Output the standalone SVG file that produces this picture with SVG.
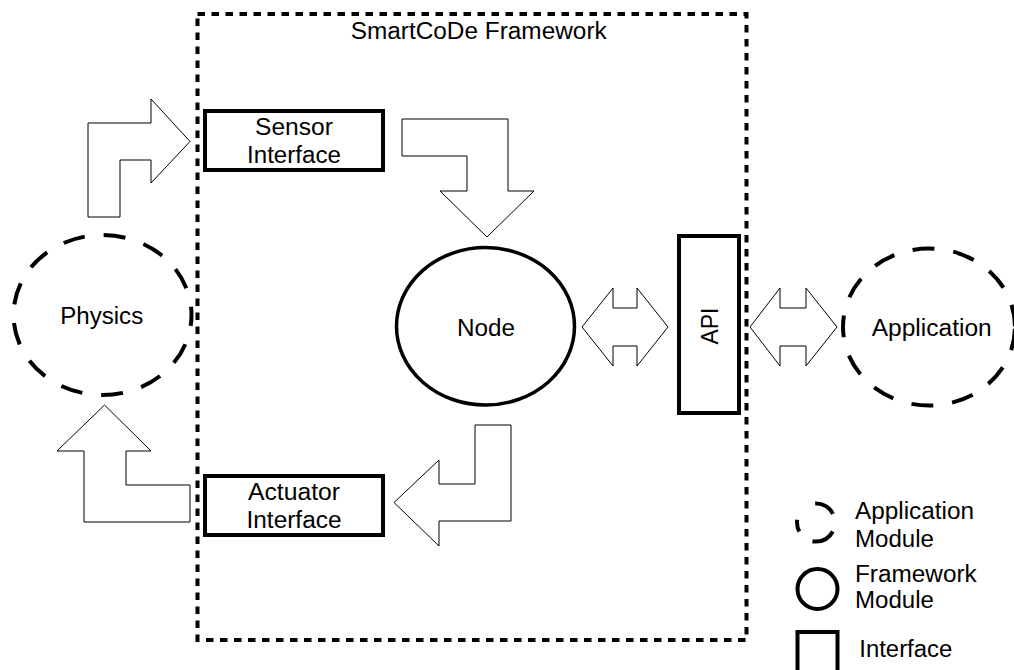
<svg xmlns="http://www.w3.org/2000/svg" width="1014" height="670" viewBox="0 0 1014 670">
  <style>
    .lbl { font-family: "Liberation Sans", Arial, sans-serif; font-size: 23px; fill: #000; }
    .mid { text-anchor: middle; }
    .frame { fill: none; stroke: #000; stroke-width: 4; stroke-dasharray: 7.5 6.5; }
    .module { fill: none; stroke: #000; stroke-width: 4; stroke-dasharray: 22 19; }
    .fw { fill: #fff; stroke: #000; stroke-width: 3.5; }
    .iface { fill: #fff; stroke: #000; stroke-width: 4; }
    .flow { fill: #fff; stroke: #000; stroke-width: 1; stroke-linejoin: miter; }
  </style>

  <rect width="1014" height="670" fill="#fff"/>

  <!-- framework boundary -->
  <g id="framework">
    <rect class="frame" x="197.5" y="14" width="549" height="626"/>
    <text class="lbl mid" x="478.7" y="39" textLength="256" lengthAdjust="spacingAndGlyphs">SmartCoDe Framework</text>
  </g>

  <!-- block arrows between modules -->
  <g id="connectors">
    <polygon class="flow" points="88,217 88,123 151,123 151,99 190,141.5 151,183 151,160 120,160 120,217"/>
    <polygon class="flow" points="402,119 508,119 508,191 534,191 487,237 440,191 467,191 467,156 402,156"/>
    <polygon class="flow" points="475,425 511,425 511,521 439,521 439,546 394,502.5 439,460 439,484 475,484"/>
    <polygon class="flow" points="104.5,405 151,451 126,451 126,485 190,485 190,522 84,522 84,451 57,451"/>
    <polygon class="flow" points="582,327 613,288 613,308 637,308 637,288 668,327 637,366 637,346 613,346 613,366"/>
    <polygon class="flow" points="750,327 780,288 780,308 806,308 806,288 837,327 806,366 806,346 780,346 780,366"/>
  </g>

  <g id="physics">
    <ellipse class="module" cx="102.5" cy="315" rx="89" ry="80" stroke-dashoffset="11"/>
    <text class="lbl mid" x="101.7" y="323.5" textLength="83" lengthAdjust="spacingAndGlyphs">Physics</text>
  </g>

  <g id="sensor-interface">
    <rect class="iface" x="205" y="111" width="178" height="59"/>
    <text class="lbl mid" x="294" y="135" textLength="78" lengthAdjust="spacingAndGlyphs">Sensor</text>
    <text class="lbl mid" x="294" y="162.5" textLength="94" lengthAdjust="spacingAndGlyphs">Interface</text>
  </g>

  <g id="actuator-interface">
    <rect class="iface" x="205" y="476" width="178" height="59"/>
    <text class="lbl mid" x="294" y="499.5" textLength="92" lengthAdjust="spacingAndGlyphs">Actuator</text>
    <text class="lbl mid" x="294" y="527.5" textLength="95" lengthAdjust="spacingAndGlyphs">Interface</text>
  </g>

  <g id="node">
    <ellipse class="fw" cx="485.5" cy="326.3" rx="89" ry="78.7"/>
    <text class="lbl mid" x="486" y="335.7" textLength="58" lengthAdjust="spacingAndGlyphs">Node</text>
  </g>

  <g id="api">
    <rect class="iface" x="679" y="236" width="60" height="177"/>
    <text class="lbl mid" transform="translate(718,326) rotate(-90)" x="0" y="0" font-size="25" textLength="37" lengthAdjust="spacingAndGlyphs">API</text>
  </g>

  <g id="application">
    <ellipse class="module" cx="929" cy="327" rx="86" ry="78.5" stroke-dashoffset="-1.7"/>
    <text class="lbl mid" x="931.7" y="335.7" textLength="120" lengthAdjust="spacingAndGlyphs">Application</text>
  </g>

  <!-- key -->
  <g id="legend">
    <circle cx="816" cy="522.5" r="19" fill="none" stroke="#000" stroke-width="4" stroke-dasharray="24 16.6 12.3 25.9 21.6 19.2" stroke-dashoffset="-9.3"/>
    <text class="lbl" x="855" y="519.3" textLength="119" lengthAdjust="spacingAndGlyphs">Application</text>
    <text class="lbl" x="855" y="547.3" textLength="79" lengthAdjust="spacingAndGlyphs">Module</text>
    <circle cx="817.5" cy="589" r="20" fill="none" stroke="#000" stroke-width="4"/>
    <text class="lbl" x="855" y="581.7" textLength="121.7" lengthAdjust="spacingAndGlyphs">Framework</text>
    <text class="lbl" x="855" y="608.3" textLength="79" lengthAdjust="spacingAndGlyphs">Module</text>
    <rect x="797.5" y="632" width="40" height="40" fill="none" stroke="#000" stroke-width="4"/>
    <text class="lbl" x="859.3" y="656.7" textLength="93" lengthAdjust="spacingAndGlyphs">Interface</text>
  </g>
</svg>
